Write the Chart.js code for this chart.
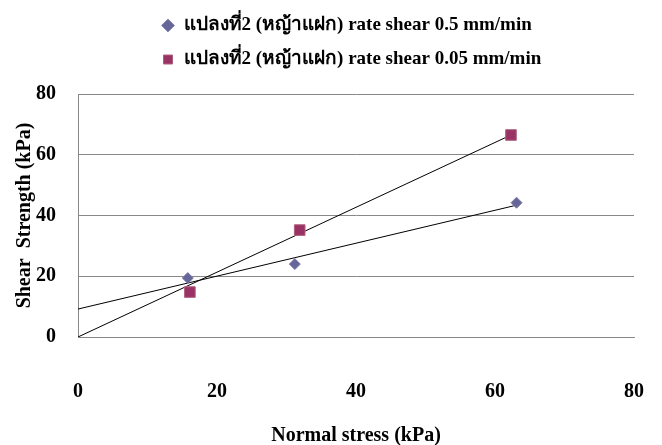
<!DOCTYPE html>
<html>
<head>
<meta charset="utf-8">
<script src="https://cdn.jsdelivr.net/npm/chart.js@4/dist/chart.umd.min.js"></script>
<style>
  html, body { margin: 0; padding: 0; background: #fff; }
  #wrap { width: 662px; height: 445px; }
</style>
</head>
<body>
<div id="wrap"><canvas id="myChart" width="662" height="445"></canvas></div>
<script>
// measured points: normal stress vs shear strength
let fastStress=[15.8, 31.2, 63.1];
let fastShear=[19.4, 24.0, 44.2];
let slowStress=[16.1, 31.9, 62.3];
let slowShear=[14.8, 35.2, 66.5];

// trend line end points
let fastTrendX=[0, 63.1];
let fastTrendY=[9.2, 43.4];
let slowTrendX=[0, 62.3];
let slowTrendY=[0, 66.5];

let axisTicks=[0, 20, 40, 60, 80];
let seriesNames=[
    "แปลงที่2 (หญ้าแฝก) rate shear 0.5 mm/min",
    "แปลงที่2 (หญ้าแฝก) rate shear 0.05 mm/min"
];

let toPoints=(xs,ys)=>xs.map((x,i)=>({x: x, y: ys[i]}));

const fontFamily="'Liberation Serif', 'Times New Roman', serif";
const topGap=16;

// legend rows share one left edge, and the legend sits above the extra top gap
const legendLeft={
    id: 'legendLeft',
    afterLayout(chart){
        let lg=chart.legend;
        let w=lg.right-lg.left;
        lg.left=147;
        lg.right=lg.left+w;
        lg.top-=topGap-1;
        lg.bottom-=topGap-1;
    }
};

const ctx=document.getElementById('myChart').getContext('2d');
const myChart=new Chart(ctx, {
    type: 'scatter',
    data: {
        datasets: [{
            label: seriesNames[0],
            data: toPoints(fastStress, fastShear),
            pointStyle: 'rectRot',
            pointRadius: 5.5,
            backgroundColor: '#666699',
            borderColor: '#7a7aab',
            borderWidth: 1,
            order: 1
        },{
            label: seriesNames[1],
            data: toPoints(slowStress, slowShear),
            pointStyle: 'rect',
            pointRadius: 7.5,
            backgroundColor: '#993366',
            borderColor: '#b0607f',
            borderWidth: 1,
            order: 1
        },{
            label: 'trend1',
            data: toPoints(fastTrendX, fastTrendY),
            showLine: true,
            pointRadius: 0,
            borderColor: '#000',
            borderWidth: 1,
            order: 2
        },{
            label: 'trend2',
            data: toPoints(slowTrendX, slowTrendY),
            showLine: true,
            pointRadius: 0,
            borderColor: '#000',
            borderWidth: 1,
            order: 2
        }]
    },
    options: {
        responsive: false,
        animation: false,
        layout: { padding: { top: topGap, right: 28, left: 0, bottom: 0 } },
        plugins: {
            tooltip: { enabled: false },
            legend: {
                position: 'top',
                align: 'start',
                labels: {
                    filter: (item)=>item.datasetIndex<2,
                    usePointStyle: true,
                    boxHeight: 9,
                    boxWidth: 12,
                    padding: 15,
                    color: '#000',
                    font: { family: fontFamily, size: 19, weight: 'bold' }
                }
            }
        },
        scales: {
            x: {
                type: 'linear',
                min: 0,
                max: 80,
                afterBuildTicks: (s)=>{ s.ticks=axisTicks.map(v=>({value: v})); },
                afterFit: (s)=>{ s.height=108; },
                // hidden tick marks keep the labels well below the axis
                grid: { display: false, drawTicks: true, tickLength: 40, tickColor: 'transparent' },
                border: { display: true, color: '#888', width: 1 },
                ticks: {
                    padding: 3,
                    color: '#000',
                    font: { family: fontFamily, size: 20, weight: 'bold' }
                },
                title: {
                    display: true,
                    text: 'Normal stress (kPa)',
                    color: '#000',
                    padding: { top: 20, bottom: -3 },
                    font: { family: fontFamily, size: 20, weight: 'bold' }
                }
            },
            y: {
                min: 0,
                max: 80,
                afterBuildTicks: (s)=>{ s.ticks=axisTicks.map(v=>({value: v})); },
                afterFit: (s)=>{ s.width=78; },
                grid: { color: '#888', lineWidth: 1, drawTicks: false },
                border: { display: true, color: '#888', width: 1 },
                ticks: {
                    padding: 22,
                    color: '#000',
                    font: { family: fontFamily, size: 20, weight: 'bold' }
                },
                title: {
                    display: true,
                    text: 'Shear  Strength (kPa)',
                    color: '#000',
                    padding: { top: 13, bottom: 0 },
                    font: { family: fontFamily, size: 20, weight: 'bold' }
                }
            }
        }
    },
    plugins: [legendLeft]
});
</script>
</body>
</html>
